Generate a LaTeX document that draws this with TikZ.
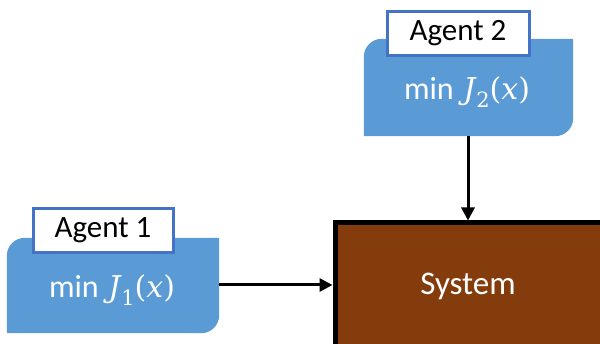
\documentclass[tikz,border=0pt]{standalone}
\usepackage{fontspec}
\setmainfont{Carlito}
\newfontfamily\mfont{DejaVu Serif}
\usetikzlibrary{arrows.meta,calc}
\definecolor{agentblue}{HTML}{5B9BD5}
\definecolor{labelblue}{HTML}{4472C4}
\definecolor{sysbrown}{HTML}{843C0C}
\newcommand{\minJ}[1]{min\hspace{0.3em}{\mfont\fontsize{30}{32}\selectfont\itshape J\hspace{0.03em}\raisebox{-0.28em}{\fontsize{21}{22}\selectfont\upshape #1}\upshape(\itshape x\upshape)}}
\tikzset{
  agentlabel/.style={draw=labelblue, fill=white, line width=3pt, inner sep=0pt, minimum width=140pt, minimum height=44pt, font=\fontsize{31}{33}\selectfont},
  mintext/.style={text=white, font=\fontsize{32}{34}\selectfont, inner sep=0pt},
  link/.style={line width=3pt, -{Triangle[length=13pt,width=13pt]}},
}
\newcommand{\agentshape}[1]{%
  \fill[agentblue] (#1.south west) -- ($(#1.north west)+(0,-18pt)$)
    arc[start angle=180,end angle=90,radius=18pt] -- (#1.north east)
    -- ($(#1.south east)+(0,18pt)$) arc[start angle=0,end angle=-90,radius=18pt] -- cycle;}
\begin{document}
\begin{tikzpicture}[x=1pt,y=1pt]
\useasboundingbox (0,0) rectangle (600,344);
\clip (0,0) rectangle (600,344);
% agent 1
\node[inner sep=0pt, minimum width=212pt, minimum height=95pt] (a1) at (113,58.5) {};
\agentshape{a1}
\node[mintext] (a1t) at (112,54) {\minJ{1}};
\node[agentlabel] (a1l) at (103,113.5) {Agent 1};
% agent 2
\node[inner sep=0pt, minimum width=209pt, minimum height=97pt] (a2) at (468.5,256.5) {};
\agentshape{a2}
\node[mintext] (a2t) at (467,252) {\minJ{2}};
\node[agentlabel, minimum width=142pt] (a2l) at (458,310.5) {Agent 2};
% system
\node[draw=black, fill=sysbrown, line width=5pt, inner sep=0pt, minimum width=290pt, minimum height=150pt, anchor=north west] (sys) at (332.5,123.5) {};
\node[text=white, font=\fontsize{33}{35}\selectfont, inner sep=0pt] (syst) at (468,58) {System};
% connectors
\draw[link] (a1.east |- 0,59) -- (sys.west |- 0,59);
\draw[link] (a2.south -| 468,0) -- (sys.north -| 468,0);
\end{tikzpicture}
\end{document}
